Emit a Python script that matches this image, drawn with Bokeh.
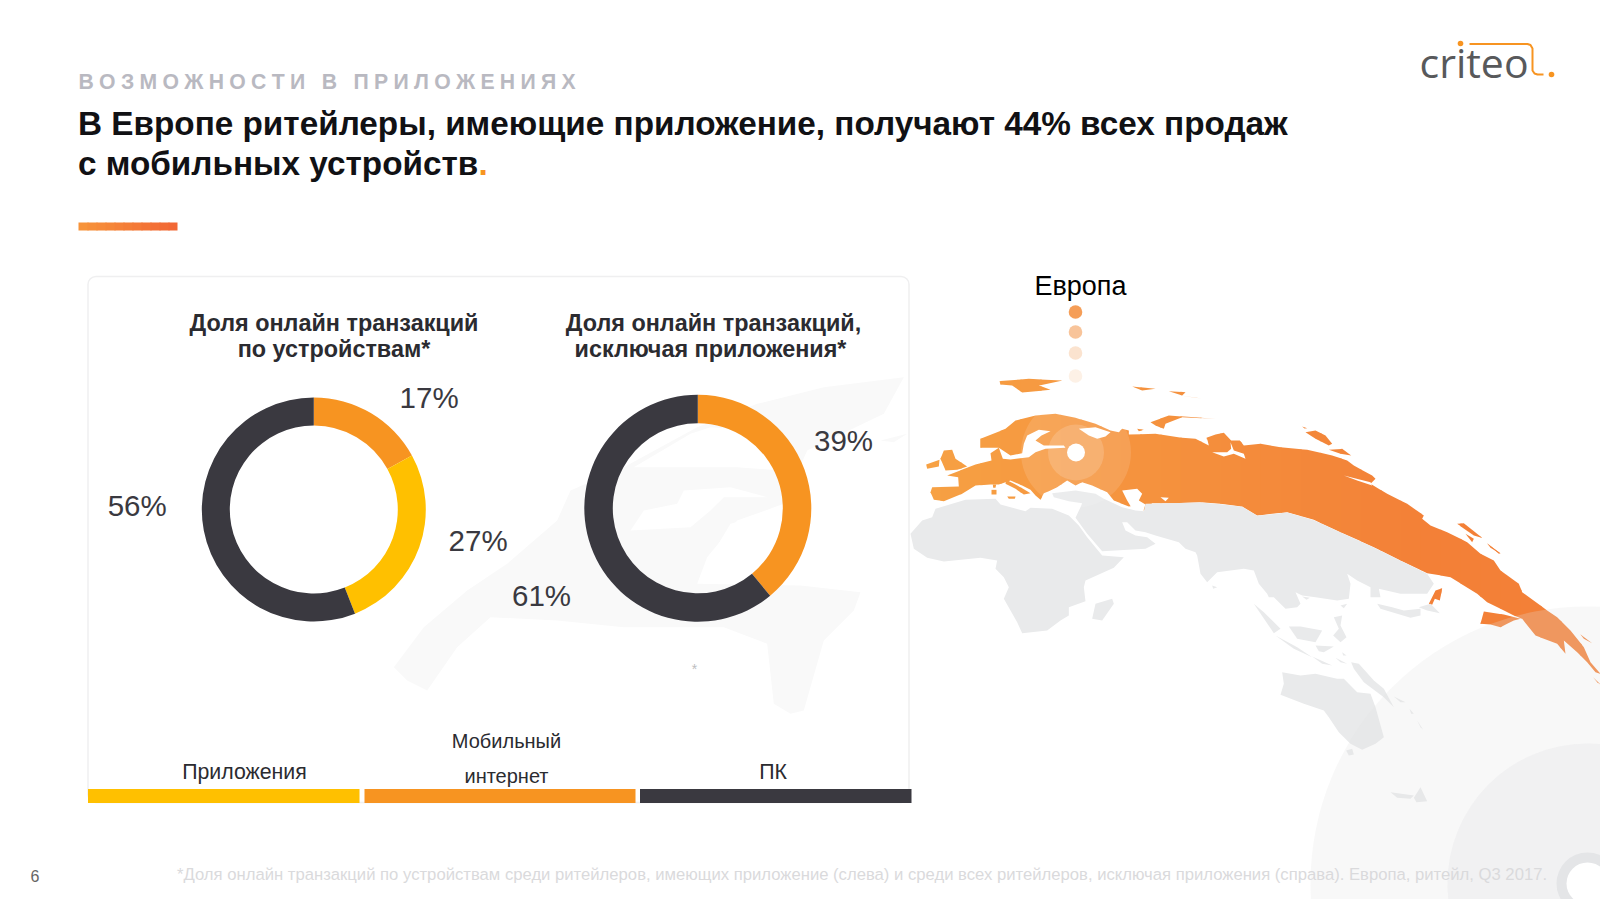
import numpy as np
from bokeh.plotting import figure
from bokeh.models import Range1d
from bokeh.core.properties import value
from bokeh.embed import file_html
from bokeh.resources import INLINE

# ---- data ----
donut1_labels = ["Мобильный интернет", "Приложения", "ПК"]
donut1_values = [17, 27, 56]
donut1_colors = ["#F79421", "#FFC000", "#3A3940"]
donut2_labels = ["Мобильный интернет", "ПК"]
donut2_values = [39, 61]
donut2_colors = ["#F79421", "#3A3940"]
legend_colors = ["#FFC000", "#F79421", "#3A3940"]

TITLE1 = "В Европе ритейлеры, имеющие приложение, получают 44% всех продаж"
TITLE2 = "с мобильных устройств"
KICKER = "ВОЗМОЖНОСТИ В ПРИЛОЖЕНИЯХ"
FOOT = "*Доля онлайн транзакций по устройствам среди ритейлеров, имеющих приложение (слева) и среди всех ритейлеров, исключая приложения (справа). Европа, ритейл, Q3 2017."

FONT = "Liberation Sans"
H = 899
Y = lambda py: H - np.asarray(py, dtype=float)

p = figure(width=1600, height=899, output_backend="svg", toolbar_location=None,
           x_range=Range1d(0, 1600), y_range=Range1d(0, 899),
           min_border=0, outline_line_color=None, background_fill_color="white")
p.axis.visible = False
p.grid.visible = False

def txt(x, y, s, size, color="#3A3940", bold=False, align="center", font=FONT):
    p.text([x], [Y(y)], text=[s], text_font=value(font), text_font_size=f"{size}px",
           text_color=color, text_align=align, text_baseline="middle",
           text_font_style="bold" if bold else "normal")

# ---- decorative map outlines: traced in 3x crops of the slide, (origin x, origin y) ----
A = (915, 360)
B = (1200, 400)
C = (1400, 540)
D = (905, 480)
E = (1200, 560)
F = (390, 370)

def cr(o, pts):
    return [(o[0] + x / 3.0, o[1] + y / 3.0) for x, y in pts]

def shape(pts, color, alpha=1.0):
    a = np.array(pts, dtype=float)
    p.patch(a[:, 0], Y(a[:, 1]), fill_color=color, fill_alpha=alpha, line_color=None)

# panel
p.rect([498], [Y(539)], width=821, height=526, fill_color="white", line_color="#EFEFF0",
       line_width=1.5, border_radius=8)

# faint map in the panel
FAINT = "#F9F9F9"
shape(cr(F, [(10,890),(100,770),(230,660),(350,580),(500,450),(540,360),(700,290),(920,170),(1100,100),
             (1300,50),(1540,20),(1480,130),(1250,240),(1180,400),(1040,450),(950,560),(920,640),(1230,645),
             (1410,665),(1390,720),(1300,810),(1240,1020),(1200,1030),(1150,1000),(1130,820),(1000,770),
             (700,770),(500,750),(300,740),(200,830),(110,960),(50,930)]), FAINT)
shape(cr(F, [(1470,210),(1550,190),(1510,215)]), FAINT)
for s in [[(720,480),(760,420),(860,400),(880,360),(1020,350),(1130,380),(1000,380),(960,420),(900,470)],
          [(730,290),(900,190),(960,170),(1100,180),(1170,300),(1040,290),(850,290)],
          [(960,560),(1020,460),(1130,430),(1175,480),(1180,560),(1090,640),(950,630)]]:
    shape(cr(F, s), "white")

# orange land
eurasia = (
    cr(A, [(50,380),(130,378),(128,350),(95,345),(180,312),(228,300),(225,278),(250,262),(195,262),(195,235),
           (270,205),(300,180),(360,165),(420,160),(480,172),(540,190),(585,210),(610,215),(620,205),(640,210),
           (640,222),(720,220),(800,232),(840,235),(880,255),(875,235)])
    + cr(B, [(20,120),(18,112),(45,102),(70,97),(92,120),(118,120),(130,135),(180,130),(240,140),(320,148),
             (395,165),(440,180),(460,195),(515,225),(525,235),(510,250),(560,280),(620,310),(670,345),(665,355),
             (690,375),(740,395),(800,425),(840,460),(880,480),(900,510)])
    + cr(C, [(355,130),(365,155),(440,210),(470,230),(510,270),(550,320),(570,365),(600,400),(585,395),(560,365),
             (530,335),(490,300),(495,340),(470,310),(405,285),(365,235),(340,225),(300,205),(260,185),(230,160),
             (150,110),(80,98)])
    + cr(B, [(600,480),(520,440),(420,395),(340,358),(260,335),(170,345),(125,318),(60,310),(0,305)])
    + cr(A, [(780,428),(710,428),(685,452),(680,432),(640,438),(595,420),(575,395),(530,375),(500,365),(480,375),
             (455,360),(425,380),(400,392),(385,398),(375,418),(360,405),(345,388),(320,375),(285,360),(250,372),
             (225,372),(180,375),(140,400),(85,422),(55,418),(45,395)])
)
islands = [
    cr(A, [(272,358),(300,372),(335,392),(345,398),(325,402),(300,385),(270,370)]),
    cr(A, [(275,408),(300,408),(298,415),(280,415)]),
    cr(A, [(228,388),(243,388),(243,402),(228,402)]),
    cr(A, [(232,372),(242,372),(240,382),(233,382)]),
    cr(A, [(88,325),(75,295),(85,270),(110,268),(120,295),(155,318),(125,328),(90,330)]),
    cr(A, [(32,312),(72,298),(70,318),(35,325)]),
    cr(A, [(252,62),(340,55),(440,60),(370,75),(405,88),(320,96),(290,75),(255,72)]),
    cr(A, [(650,78),(720,85),(680,90)]),
    cr(A, [(760,92),(810,95),(800,105)]),
    cr(A, [(780,103),(885,118),(830,110)]),
    cr(A, [(705,185),(760,165),(900,175),(800,170),(750,190),(745,205),(720,195)]),
    cr(A, [(665,205),(685,208),(670,212)]),
    cr(B, [(315,95),(345,90),(375,105),(395,130),(385,135),(345,115)]),
    cr(B, [(305,78),(320,83),(312,84)]),
    cr(B, [(385,148),(425,145),(452,165),(420,160)]),
    cr(B, [(770,370),(790,368),(845,412),(820,405)]),
    cr(B, [(795,400),(820,415),(815,425)]),
    cr(B, [(860,430),(900,458),(895,460)]),
    cr(C, [(260,8),(300,40),(270,22)]),
    cr(C, [(540,282),(575,308),(550,295)]),
    cr(C, [(578,410),(600,432),(590,425)]),
    cr(C, [(240,250),(250,213),(310,222),(360,235),(340,240),(320,250),(300,260),(270,252)]),
    cr(C, [(85,190),(105,150),(125,143),(118,180),(103,175),(95,193)]),
]

def clip(poly, x0, x1):
    def half(pts, edge, keep_gt):
        out = []
        for i in range(len(pts)):
            a, b = pts[i], pts[(i + 1) % len(pts)]
            ina = a[0] >= edge if keep_gt else a[0] <= edge
            inb = b[0] >= edge if keep_gt else b[0] <= edge
            if ina:
                out.append(a)
            if ina != inb:
                t = (edge - a[0]) / (b[0] - a[0])
                out.append((edge, a[1] + t * (b[1] - a[1])))
        return out
    r = half(poly, x0, True)
    return half(r, x1, False) if r and len(r) > 2 else r

def grad(x):
    t = np.clip((x - 930) / 500, 0, 1)
    c0, c1 = np.array([0xF7, 0xA1, 0x44]), np.array([0xF3, 0x80, 0x37])
    c = (c0 + (c1 - c0) * t).astype(int)
    return "#%02X%02X%02X" % tuple(c)

bands = np.arange(920, 1600, 20)
for s in [eurasia] + islands:
    for b in bands:
        part = clip(s, b, b + 21)
        if len(part) >= 3:
            shape(part, grad(b + 10))

# seas cut from the orange land
for s in [
    cr(A, [(250,262),(285,285),(320,278),(325,250),(335,225),(370,208),(405,212),(378,225),(360,240),(385,255),
           (445,255),(450,262),(390,265),(360,275),(340,290),(285,297),(262,295)]),
    cr(A, [(490,205),(540,200),(585,215),(570,228),(545,235),(520,225)]),
    cr(A, [(620,390),(665,385),(680,400),(670,420),(690,432),(682,455),(650,445),(635,420)]),
    cr(A, [(735,410),(760,412),(750,422)]),
    cr(B, [(35,155),(80,155),(92,145),(90,125),(100,150),(130,160),(135,175),(100,160),(70,168)]),
    cr(B, [(430,225),(510,245),(515,255),(470,240)]),
]:
    shape(s, "white")

# grey land
GRAY = "#E9EAEB"
shape(cr(D, [(15,160),(50,120),(80,110),(90,85),(180,58),(270,55),(285,72),(360,92),(375,82),(440,85),(490,105),
             (520,135),(545,170),(590,225),(655,230),(625,262),(540,300),(535,320),(540,362),(490,380),(490,405),
             (465,420),(425,450),(350,458),(335,425),(315,390),(295,355),(310,320),(295,290),(270,265),(275,240),
             (225,232),(115,243),(65,232),(25,205)]), GRAY)
shape(cr(D, [(440,38),(510,30),(570,40),(595,55),(650,80),(690,90),(715,92),(720,70)])
      + cr(B, [(0,306),(60,311),(125,319),(170,346),(260,336),(340,359),(420,396),(520,441),(600,481),(680,520)])
      + cr(E, [(700,70),(680,100),(600,100),(535,85),(540,110),(510,110),(510,80),(470,60),(440,40),(450,70),(445,115),
               (410,120),(345,110),(305,105),(285,95),(300,130),(290,140),(255,145),(220,110),(205,110),(200,100),
               (175,70),(160,30),(130,25),(50,35),(20,65),(0,40)])
      + cr(D, [(875,225),(870,215),(840,205),(820,185),(750,165),(720,155),(690,150),(665,125),(650,125),(660,150),
               (690,165),(725,170),(750,190),(720,205),(590,212),(545,160),(510,112),(525,80),(530,68),(490,62),(445,50)]),
      GRAY)
shape(cr(D, [(560,415),(570,370),(620,355),(625,370),(590,420)]), GRAY)
for s in [
    [(160,130),(190,155),(240,205),(220,218)], [(225,225),(290,260),(335,290),(280,265)],
    [(335,288),(395,315),(365,310)], [(265,198),(300,198),(365,210),(345,245),(290,235)],
    [(345,255),(400,258),(370,275),(355,272)],
    [(400,170),(425,165),(420,195),(438,230),(420,245),(398,225),(415,205)],
    [(452,305),(475,310),(520,360),(550,385),(580,440),(550,410),(490,365),(460,325)],
    [(425,275),(438,285),(428,285)], [(405,292),(440,310),(420,305)], [(580,408),(615,425),(600,425)],
    [(627,445),(640,460),(632,460)], [(650,480),(668,508),(660,500)],
    [(245,335),(300,345),(345,340),(390,350),(410,355),(430,355),(470,395),(510,400),(525,440),(550,530),(525,550),
     (485,568),(450,550),(415,515),(385,470),(370,450),(310,430),(240,403),(250,370)],
    [(437,570),(455,565),(460,582),(445,585)], [(570,695),(640,705),(630,715),(590,712)],
    [(640,712),(660,680),(680,722),(648,725)], [(305,108),(328,112),(318,118)], [(420,135),(440,130),(430,143)],
    [(530,130),(575,140),(610,150),(660,145),(660,165),(630,172),(590,160),(540,145)],
    [(655,140),(690,130),(718,158),(680,150)], [(35,75),(50,80),(38,85)],
]:
    shape(cr(E, s), GRAY)

# highlight rings and pin
pin_x, pin_y = 1075.5, 452
p.circle([pin_x], [Y(pin_y)], radius=55, fill_color="white", fill_alpha=0.12, line_color=None)
p.circle([pin_x], [Y(pin_y)], radius=28, fill_color="white", fill_alpha=0.16, line_color=None)
p.circle([pin_x], [Y(pin_y)], radius=9, fill_color="white", line_color=None)

# dots above the pin
for yy, col in zip([311.5, 331.5, 352.5, 375.5], ["#F59E58", "#F8C49A", "#FBE3CF", "#FDF1E6"]):
    p.circle([1075], [Y(yy)], radius=6.8, fill_color=col, line_color=None)
txt(1080, 285, "Европа", 27, color="#000000")

# corner circles
p.circle([1587], [Y(883)], radius=277, fill_color="#E0E0E3", fill_alpha=0.24, line_color=None)
p.circle([1587], [Y(883)], radius=140, fill_color="#E0E0E3", fill_alpha=0.28, line_color=None)
p.circle([1587], [Y(883)], radius=31, fill_color="#E4E5E7", line_color=None)
p.circle([1587], [Y(883)], radius=21, fill_color="white", line_color=None)

# ---- donuts ----
def donut(cx, cy, ro, ri, values, colors):
    frac = np.cumsum([0] + list(values)) / float(sum(values))
    ang = np.pi / 2 - 2 * np.pi * frac
    p.annular_wedge([cx] * len(values), [Y(cy)] * len(values), inner_radius=ri, outer_radius=ro,
                    start_angle=ang[:-1], end_angle=ang[1:], direction="clock",
                    fill_color=colors, line_color=None)

donut(313.3, 509, 112, 84, donut1_values, donut1_colors)
donut(697.3, 507.8, 113.5, 85, donut2_values, donut2_colors)

for (x, y), v in zip([(428.6, 397), (477.6, 540), (136.7, 505)], donut1_values):
    txt(x, y, f"{v}%", 29.5)
for (x, y), v in zip([(843, 440), (541, 595)], donut2_values):
    txt(x, y, f"{v}%", 29.5)

txt(333.5, 322.5, "Доля онлайн транзакций", 23.4, bold=True, color="#2B2B30")
txt(333.5, 348.5, "по устройствам*", 23.4, bold=True, color="#2B2B30")
txt(713, 322.5, "Доля онлайн транзакций,", 23.4, bold=True, color="#2B2B30")
txt(710, 348.5, "исключая приложения*", 23.4, bold=True, color="#2B2B30")
txt(694, 668, "*", 14, color="#BDBDC0")

# ---- legend bars ----
p.quad(left=[87.5, 364, 639.5], right=[359, 635, 911], top=Y([788.5] * 3), bottom=Y([802.5] * 3),
       fill_color=legend_colors, line_color=None)
txt(244, 771, "Приложения", 21.3, color="#2B2B30")
txt(506, 740, "Мобильный", 20, color="#2B2B30")
txt(506, 775.5, "интернет", 20, color="#2B2B30")
txt(772.5, 771, "ПК", 21.3, color="#2B2B30")

# ---- heading ----
txt(78, 80.5, "\u200a\u200a\u200a".join(KICKER), 21.2, color="#B9B9C1", bold=True, align="left")
txt(77.5, 122.5, TITLE1, 33.3, color="#111114", bold=True, align="left")
txt(77.5, 163, TITLE2, 33.3, color="#111114", bold=True, align="left")
txt(478, 163, ".", 33.3, color="#F79421", bold=True, align="left")
for i, x0 in enumerate(np.arange(78, 177, 9)):
    t = i / 10
    col = "#%02X%02X%02X" % (int(0xF7 + (0xF2 - 0xF7) * t), int(0x93 + (0x68 - 0x93) * t), int(0x3A + (0x35 - 0x3A) * t))
    p.quad(left=[x0], right=[min(x0 + 10, 177)], top=Y([222]), bottom=Y([230]), fill_color=col, line_color=None)

# ---- footer ----
txt(30, 875, "6", 16, color="#666666", align="left")
txt(176.5, 874, FOOT, 16.67, color="#DADADC", align="left")

# ---- logo ----
txt(1419, 61, "criteo", 41, color="#58595B", align="left", font="Open Sans")
p.circle([1460], [Y(43)], radius=2.8, fill_color="#F79421", line_color=None)
p.circle([1551], [Y(74)], radius=2.8, fill_color="#F79421", line_color=None)
p.line([1469, 1527, 1530, 1532, 1532, 1534, 1537, 1543], Y([43.5, 43.5, 44.5, 48, 70, 73, 74, 74]),
       line_color="#F79421", line_width=2)

open("out.html", "w").write(file_html(p, INLINE))
